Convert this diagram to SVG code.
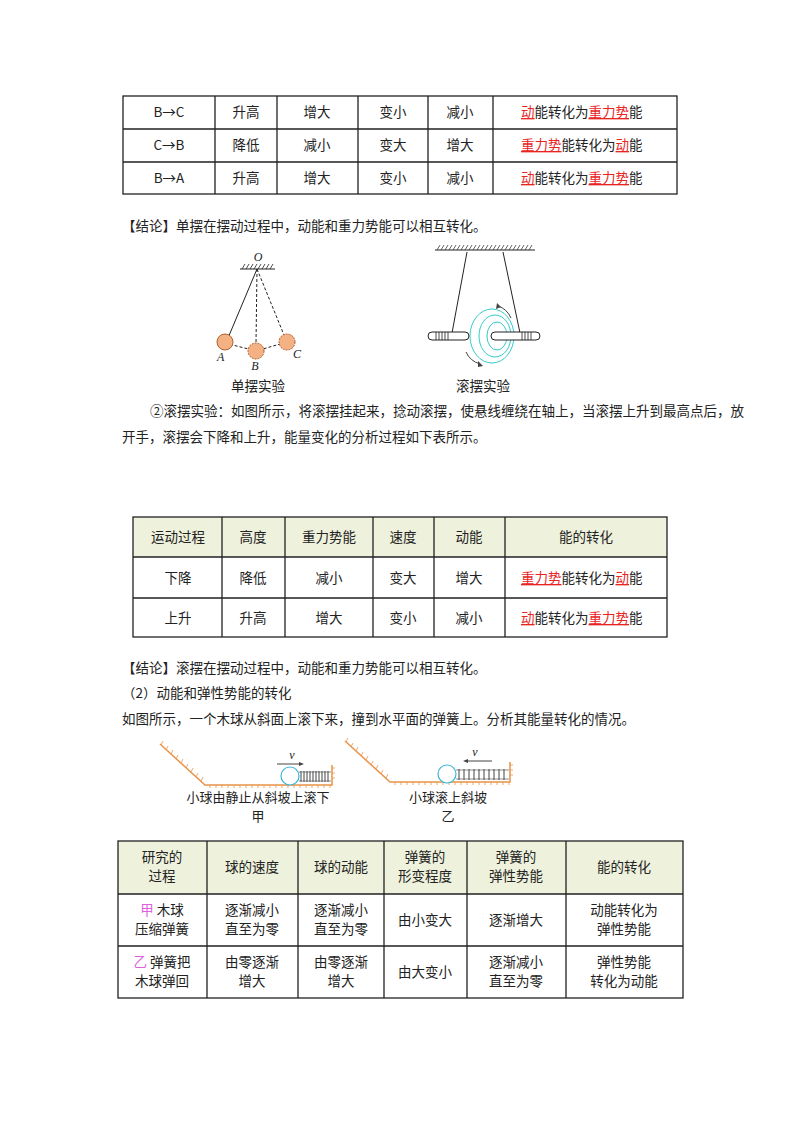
<svg xmlns="http://www.w3.org/2000/svg" width="800" height="1132" viewBox="0 0 800 1132">
<style>
text{font-family:"Noto Sans CJK SC","Liberation Sans",sans-serif;font-size:13.5px;fill:#222}
.c{text-anchor:middle}
.r{fill:#e8251f;text-decoration:underline}
.p{fill:#e060e0}
.g{stroke:#222;stroke-width:1.3;fill:none}
.hd{fill:#eef1dc}
.or{stroke:#e8944a;stroke-width:1.5;fill:none}
.hat{stroke:#e8944a;stroke-width:0.8}
.it{font-family:"Liberation Serif",serif;font-style:italic;font-size:12px}
.cap{font-size:13px}
</style>
<rect width="800" height="1132" fill="#fff"/>
<g id="table1">
<rect class="g" x="123" y="96" width="554" height="98"/>
<path class="g" d="M123 129H677M123 162H677M215 96V194M277 96V194M358 96V194M428 96V194M493 96V194"/>
<g class="c">
<text x="169" y="117">B→C</text><text x="246" y="117">升高</text><text x="317" y="117">增大</text><text x="393" y="117">变小</text><text x="460" y="117">减小</text>
<text x="169" y="150">C→B</text><text x="246" y="150">降低</text><text x="317" y="150">减小</text><text x="393" y="150">变大</text><text x="460" y="150">增大</text>
<text x="169" y="183">B→A</text><text x="246" y="183">升高</text><text x="317" y="183">增大</text><text x="393" y="183">变小</text><text x="460" y="183">减小</text>
</g>
<text x="521" y="117"><tspan class="r">动</tspan>能转化为<tspan class="r">重力势</tspan>能</text>
<text x="521" y="150"><tspan class="r">重力势</tspan>能转化为<tspan class="r">动</tspan>能</text>
<text x="521" y="183"><tspan class="r">动</tspan>能转化为<tspan class="r">重力势</tspan>能</text>
</g>
<text x="122" y="231">【结论】单摆在摆动过程中，动能和重力势能可以相互转化。</text>
<g id="pendulum">
<line x1="240" y1="269" x2="275" y2="269" stroke="#222" stroke-width="1.2"/>
<path d="M242 269l3-5M246 269l3-5M250 269l3-5M254 269l3-5M258 269l3-5M262 269l3-5M266 269l3-5M270 269l3-5" stroke="#222" stroke-width="0.8"/>
<text x="258" y="261" class="it c">O</text>
<line x1="257" y1="269" x2="228" y2="338" stroke="#222" stroke-width="1"/>
<line x1="257" y1="269" x2="256" y2="344" stroke="#222" stroke-width="1" stroke-dasharray="3 2"/>
<line x1="257" y1="269" x2="284" y2="335" stroke="#222" stroke-width="1" stroke-dasharray="3 2"/>
<path d="M225 343L256 351L287 342" fill="none" stroke="#222" stroke-dasharray="3 2"/>
<circle cx="225" cy="342" r="8" fill="#f4b183" stroke="#b06030"/>
<circle cx="256" cy="351" r="8" fill="#f4b183" stroke="#b06030" stroke-dasharray="2 1"/>
<circle cx="287" cy="342" r="8" fill="#f4b183" stroke="#b06030" stroke-dasharray="2 1"/>
<text x="217" y="361" class="it">A</text><text x="255" y="370" class="it c">B</text><text x="293" y="358" class="it">C</text>
<text x="258" y="391" class="c">单摆实验</text>
</g>
<g id="maxwell">
<line x1="435" y1="250" x2="535" y2="250" stroke="#222" stroke-width="1.2"/>
<path d="M437 250l3-5M441 250l3-5M445 250l3-5M449 250l3-5M453 250l3-5M457 250l3-5M461 250l3-5M465 250l3-5M469 250l3-5M473 250l3-5M477 250l3-5M481 250l3-5M485 250l3-5M489 250l3-5M493 250l3-5M497 250l3-5M501 250l3-5M505 250l3-5M509 250l3-5M513 250l3-5M517 250l3-5M521 250l3-5M525 250l3-5M529 250l3-5" stroke="#222" stroke-width="0.7"/>
<line x1="467" y1="252" x2="452" y2="333" stroke="#222"/>
<line x1="503" y1="252" x2="520" y2="333" stroke="#222"/>
<ellipse cx="492" cy="336" rx="22" ry="27" fill="none" stroke="#3cc" stroke-width="1"/>
<ellipse cx="495" cy="336" rx="16" ry="21" fill="none" stroke="#3cc" stroke-width="1"/>
<ellipse cx="497" cy="336" rx="10" ry="14" fill="none" stroke="#3cc" stroke-width="1"/>
<rect x="428" y="332" width="41" height="8" rx="4" fill="#fff" stroke="#222"/>
<rect x="491" y="332" width="49" height="8" rx="4" fill="#fff" stroke="#222"/>
<path d="M436 332v8M439 332v8M442 332v8M445 332v8M448 332v8M522 332v8M525 332v8M528 332v8M531 332v8" stroke="#222" stroke-width="0.8"/>
<path d="M498 306q9 3 13 12" fill="none" stroke="#444"/><path d="M497 303l-1 6 5-2z" fill="#444"/>
<path d="M466 352q4 9 14 12" fill="none" stroke="#444"/><path d="M483 366l-5-5v6z" fill="#444"/>
<text x="483" y="391" class="c">滚摆实验</text>
</g>
<text x="150" y="416">②滚摆实验：如图所示，将滚摆挂起来，捻动滚摆，使悬线缠绕在轴上，当滚摆上升到最高点后，放</text>
<text x="122" y="442">开手，滚摆会下降和上升，能量变化的分析过程如下表所示。</text>
<g id="table2">
<rect class="hd" x="133" y="517" width="534" height="40"/>
<rect class="g" x="133" y="517" width="534" height="120"/>
<path class="g" d="M133 557H667M133 598H667M222 517V637M285 517V637M373 517V637M434 517V637M505 517V637"/>
<g class="c">
<text x="178" y="542">运动过程</text><text x="253" y="542">高度</text><text x="329" y="542">重力势能</text><text x="403" y="542">速度</text><text x="469" y="542">动能</text><text x="586" y="542">能的转化</text>
<text x="178" y="583">下降</text><text x="253" y="583">降低</text><text x="329" y="583">减小</text><text x="403" y="583">变大</text><text x="469" y="583">增大</text>
<text x="178" y="623">上升</text><text x="253" y="623">升高</text><text x="329" y="623">增大</text><text x="403" y="623">变小</text><text x="469" y="623">减小</text>
</g>
<text x="521" y="583"><tspan class="r">重力势</tspan>能转化为<tspan class="r">动</tspan>能</text>
<text x="521" y="623"><tspan class="r">动</tspan>能转化为<tspan class="r">重力势</tspan>能</text>
</g>
<text x="122" y="673">【结论】滚摆在摆动过程中，动能和重力势能可以相互转化。</text>
<text x="122" y="698">（2）动能和弹性势能的转化</text>
<text x="122" y="724">如图所示，一个木球从斜面上滚下来，撞到水平面的弹簧上。分析其能量转化的情况。</text>
<g id="fig-jia">
<path class="or" d="M160 744L205 785H332V765"/>
<path class="hat" d="M163 741l-2 4M168 746l-2 4M173 750l-2 4M178 755l-2 4M183 759l-2 4M188 764l-2 4M193 768l-2 4M198 773l-2 4M203 777l-2 4M210 785v3M216 785v3M222 785v3M228 785v3M234 785v3M240 785v3M246 785v3M252 785v3M258 785v3M264 785v3M270 785v3M276 785v3M282 785v3M288 785v3M294 785v3M300 785v3M306 785v3M312 785v3M318 785v3M324 785v3M330 785v3M332 768h3M332 773h3M332 778h3"/>
<path d="M299 772h32M299 781h32" stroke="#444" stroke-width="0.6"/>
<path d="M301 771v11M304 771v11M307 771v11M310 771v11M313 771v11M316 771v11M319 771v11M322 771v11M325 771v11M328 771v11" stroke="#444" stroke-width="1"/>
<circle cx="290" cy="776" r="9" fill="#fff" stroke="#3ab5d8" stroke-width="1.2"/>
<line x1="277" y1="764" x2="300" y2="764" stroke="#444"/><path d="M304 764l-5-2v4z" fill="#444"/>
<text x="292" y="759" class="it c">v</text>
<text x="258" y="802" class="c cap">小球由静止从斜坡上滚下</text>
<text x="258" y="821" class="c cap">甲</text>
</g>
<g id="fig-yi">
<path class="or" d="M345 741L390 782H510V762"/>
<path class="hat" d="M348 738l-2 4M353 743l-2 4M358 747l-2 4M363 752l-2 4M368 756l-2 4M373 761l-2 4M378 765l-2 4M383 770l-2 4M388 774l-2 4M395 782v3M401 782v3M407 782v3M413 782v3M419 782v3M425 782v3M431 782v3M437 782v3M443 782v3M449 782v3M455 782v3M461 782v3M467 782v3M473 782v3M479 782v3M485 782v3M491 782v3M497 782v3M503 782v3M509 782v3M510 765h3M510 770h3M510 775h3"/>
<path d="M456 770h53M456 779h53" stroke="#444" stroke-width="0.6"/>
<path d="M459 769v11M464 769v11M469 769v11M474 769v11M479 769v11M484 769v11M489 769v11M494 769v11M499 769v11M504 769v11" stroke="#444" stroke-width="1"/>
<circle cx="447" cy="774" r="9" fill="#fff" stroke="#3ab5d8" stroke-width="1.2"/>
<line x1="468" y1="761" x2="492" y2="761" stroke="#444"/><path d="M463 761l5-2v4z" fill="#444"/>
<text x="475" y="756" class="it c">v</text>
<text x="448" y="802" class="c cap">小球滚上斜坡</text>
<text x="448" y="821" class="c cap">乙</text>
</g>
<g id="table3">
<rect class="hd" x="118" y="841" width="565" height="53"/>
<rect class="g" x="118" y="841" width="565" height="157"/>
<path class="g" d="M118 894H683M118 946H683M207 841V998M298 841V998M384 841V998M467 841V998M566 841V998"/>
<g class="c">
<text x="162" y="862">研究的</text><text x="162" y="881">过程</text>
<text x="252" y="872">球的速度</text><text x="341" y="872">球的动能</text>
<text x="425" y="862">弹簧的</text><text x="425" y="881">形变程度</text>
<text x="516" y="862">弹簧的</text><text x="516" y="881">弹性势能</text>
<text x="624" y="872">能的转化</text>
<text x="162" y="915"><tspan class="p">甲</tspan> 木球</text><text x="162" y="934">压缩弹簧</text>
<text x="252" y="915">逐渐减小</text><text x="252" y="934">直至为零</text>
<text x="341" y="915">逐渐减小</text><text x="341" y="934">直至为零</text>
<text x="425" y="925">由小变大</text>
<text x="516" y="925">逐渐增大</text>
<text x="624" y="915">动能转化为</text><text x="624" y="934">弹性势能</text>
<text x="162" y="967"><tspan class="p">乙</tspan> 弹簧把</text><text x="162" y="986">木球弹回</text>
<text x="252" y="967">由零逐渐</text><text x="252" y="986">增大</text>
<text x="341" y="967">由零逐渐</text><text x="341" y="986">增大</text>
<text x="425" y="977">由大变小</text>
<text x="516" y="967">逐渐减小</text><text x="516" y="986">直至为零</text>
<text x="624" y="967">弹性势能</text><text x="624" y="986">转化为动能</text>
</g>
</g>
</svg>
